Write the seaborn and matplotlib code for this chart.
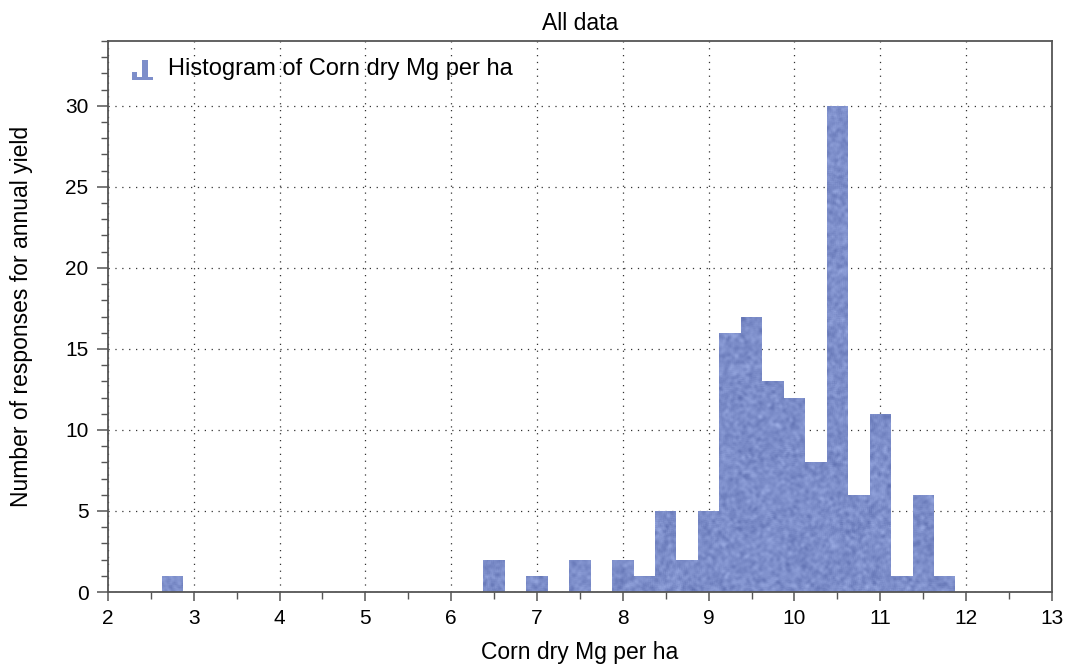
import matplotlib
matplotlib.use("Agg")
import matplotlib.pyplot as plt
from matplotlib.ticker import MultipleLocator
from matplotlib.legend_handler import HandlerBase
from matplotlib.patches import Polygon
from matplotlib.path import Path
from matplotlib.colors import to_rgb
import numpy as np
import pandas as pd
import seaborn as sns

# Yield bins (centre of each 0.25 Mg/ha bin) and number of responses
bin_centers = [2.75, 6.5, 7.0, 7.5, 8.0, 8.25, 8.5, 8.75, 9.0, 9.25,
               9.5, 9.75, 10.0, 10.25, 10.5, 10.75, 11.0, 11.25, 11.5, 11.75]
counts = [1, 2, 1, 2, 2, 1, 5, 2, 5, 16,
          17, 13, 12, 8, 30, 6, 11, 1, 6, 1]
bin_width = 0.25

title = "All data"
x_label = "Corn dry Mg per ha"
y_label = "Number of responses for annual yield"
legend_label = "Histogram of Corn dry Mg per ha"
x_ticks = [2, 3, 4, 5, 6, 7, 8, 9, 10, 11, 12, 13]
y_ticks = [0, 5, 10, 15, 20, 25, 30]

df = pd.DataFrame({"yield": bin_centers, "n": counts})

sns.set_theme(style="white")
plt.rcParams["font.family"] = ["Liberation Sans", "DejaVu Sans"]

bar_color = "#7d8eca"


class StepIconHandler(HandlerBase):
    """Legend key drawn as a tiny step histogram."""

    def create_artists(self, legend, orig_handle, xdescent, ydescent,
                       width, height, fontsize, trans):
        x0, y0 = -xdescent, -ydescent - 0.2 * height
        w, h = width, height * 1.05
        widths = [5.0, 5.0, 6.6, 5.0]
        steps = [0.385, 0.16, 1.0, 0.16]
        total = sum(widths)
        pts = [(x0, y0)]
        xa = x0
        for wi, s in zip(widths, steps):
            xb = xa + w * wi / total
            pts += [(xa, y0 + h * s), (xb, y0 + h * s)]
            xa = xb
        pts.append((x0 + w, y0))
        poly = Polygon(pts, closed=True, facecolor=bar_color,
                       edgecolor="none", transform=trans)
        return [poly]


fig = plt.figure(figsize=(10.68, 6.67), dpi=100)
ax = fig.add_axes([0.101, 0.1124, 0.884, 0.8261])

sns.histplot(data=df, x="yield", weights="n", binwidth=bin_width,
             binrange=(bin_centers[0] - bin_width / 2, bin_centers[-1] + bin_width / 2),
             color=bar_color, alpha=1.0, linewidth=0, element="bars",
             label=legend_label, ax=ax, zorder=2)

ax.set_xlim(2, 13)
ax.set_ylim(0, 34)

# Mottled fill texture laid over the bars, clipped to their outline
bars = [p for p in ax.patches]
bar_paths = [p.get_path().transformed(p.get_patch_transform()) for p in bars]
outline = Path.make_compound_path(*bar_paths)
rng = np.random.default_rng(11)
grain = rng.normal(size=(560, 950))
smooth = np.zeros_like(grain)
for dy in (-2, -1, 0, 1, 2):
    for dx in (-2, -1, 0, 1, 2):
        wgt = 1.0 / (1 + abs(dx) + abs(dy))
        smooth += wgt * np.roll(np.roll(grain, dy, axis=0), dx, axis=1)
smooth /= smooth.std()
base = np.array(to_rgb(bar_color))
tex = np.clip(base[None, None, :] + 0.03 * smooth[:, :, None] * np.array([1.0, 1.0, 0.85]), 0, 1)
im = ax.imshow(tex, extent=(2, 13, 0, 34), aspect="auto", origin="lower",
               interpolation="bilinear", zorder=2.5)
im.set_clip_path(outline, transform=ax.transData)

ax.set_xlim(2, 13)
ax.set_ylim(0, 34)
ax.set_xticks(x_ticks)
ax.set_yticks(y_ticks)
ax.xaxis.set_minor_locator(MultipleLocator(0.5))
ax.yaxis.set_minor_locator(MultipleLocator(1))

ax.grid(True, which="major", linestyle=(0, (1, 4.5)), color="#333333",
        linewidth=0.9, zorder=0)
ax.set_axisbelow(True)

for side in ["left", "right", "top", "bottom"]:
    ax.spines[side].set_visible(True)
    ax.spines[side].set_color("#555555")
    ax.spines[side].set_linewidth(1.3)

ax.tick_params(axis="x", which="major", direction="out", length=6.5,
               width=1.1, color="#555555", labelsize=15, labelcolor="black",
               bottom=True, top=False, pad=6)
ax.tick_params(axis="y", which="major", direction="out", length=8,
               width=1.1, color="#555555", labelsize=15, labelcolor="black",
               left=True, right=False, pad=6)
ax.tick_params(axis="both", which="minor", direction="out", length=4.8,
               width=1.0, color="#555555", bottom=True, left=True,
               top=False, right=False)

ax.set_title(title, fontsize=16.5, color="black", pad=8)
ax.set_xlabel(x_label, fontsize=16.5, color="black", labelpad=9)
ax.set_ylabel(y_label, fontsize=16.5, color="black")
ax.yaxis.set_label_coords(-0.079, 0.5)

handles, labels = ax.get_legend_handles_labels()
leg = ax.legend(handles[:1], [legend_label], loc="upper left", frameon=False,
                fontsize=17, handlelength=0.915, handleheight=0.85,
                handletextpad=0.61, borderaxespad=0.0, borderpad=0.4,
                bbox_to_anchor=(0.0152, 0.9875), labelcolor="black",
                handler_map={type(handles[0]): StepIconHandler()})

fig.savefig("out.png", dpi=100)
